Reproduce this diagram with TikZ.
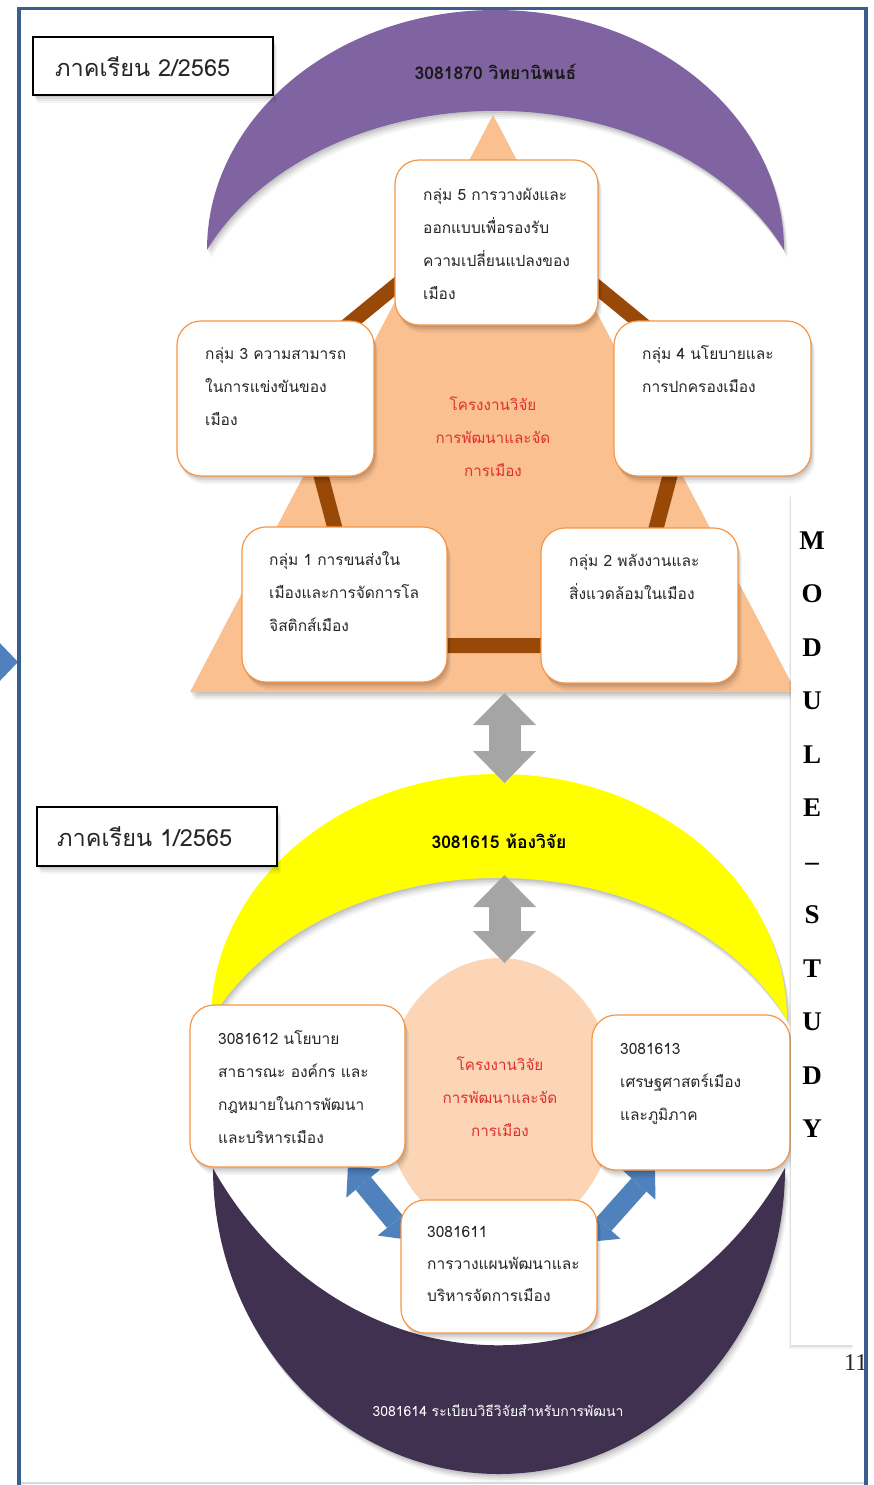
\documentclass[tikz,border=0pt]{standalone}
\usepackage{fontspec}
\setmainfont{Loma}[Script=Thai]
\newfontfamily\modfont{Liberation Serif}
\usetikzlibrary{shadows,arrows.meta,calc}
\definecolor{purpleM}{HTML}{8064A2}
\definecolor{darkM}{HTML}{403151}
\definecolor{yellowM}{HTML}{FFFF00}
\definecolor{peachT}{HTML}{FAC090}
\definecolor{peachC}{HTML}{FBD5B5}
\definecolor{brownB}{HTML}{984807}
\definecolor{orangeE}{HTML}{F79646}
\definecolor{grayA}{HTML}{A5A5A5}
\definecolor{blueA}{HTML}{4F81BD}
\definecolor{redT}{HTML}{E0302E}
\definecolor{frameB}{HTML}{3A5F8E}
\definecolor{txt}{HTML}{262626}
\tikzset{
  shad/.style={drop shadow={shadow xshift=1pt, shadow yshift=-2pt, opacity=0.08, fill=black},
               drop shadow={shadow xshift=2pt, shadow yshift=-4pt, opacity=0.07, fill=black},
               drop shadow={shadow xshift=3pt, shadow yshift=-6pt, opacity=0.05, fill=black},
               drop shadow={shadow xshift=4pt, shadow yshift=-8pt, opacity=0.04, fill=black}},
  cbox/.style={draw=orangeE, line width=1.2pt, fill=white, rounded corners=24pt, inner sep=0pt, shad},
  lbl/.style={draw=black, line width=1.2pt, fill=white, inner sep=0pt, shad},
  panel/.style={fill=white, inner sep=0pt,
               drop shadow={shadow xshift=-1pt, shadow yshift=-2pt, opacity=0.07, fill=black},
               drop shadow={shadow xshift=-2pt, shadow yshift=-4pt, opacity=0.05, fill=black}},
  boxtext/.style={anchor=north west, inner sep=0pt, align=left, text=txt, font=\fontsize{15.5pt}{33pt}\selectfont},
  ctext/.style={anchor=north, inner sep=0pt, align=center, text=redT, font=\fontsize{15.2pt}{33pt}\selectfont},
  moontext/.style={anchor=base, inner sep=0pt, font=\fontsize{17.5pt}{20pt}\selectfont\bfseries},
  lbltext/.style={anchor=base west, inner sep=0pt, text=txt, font=\fontsize{23.5pt}{26pt}\selectfont},
  modletter/.style={anchor=base, inner sep=0pt, font=\modfont\bfseries\fontsize{27pt}{30pt}\selectfont},
  garrow/.style={draw=grayA, line width=32pt, {Triangle[length=32pt,width=63pt,line width=0pt]}-{Triangle[length=32pt,width=63pt,line width=0pt]}},
  barrow/.style={draw=blueA, line width=20pt, {Triangle[length=24pt,width=44pt,line width=0pt]}-{Triangle[length=24pt,width=44pt,line width=0pt]}},
  brownbar/.style={draw=brownB, line width=15pt, line join=miter}
}
\begin{document}
\begin{tikzpicture}[x=1pt,y=1pt]
\useasboundingbox (0,0) rectangle (873,-1485);
\begin{scope}
\clip (0,0) rectangle (873,-1485);
\fill[white] (0,0) rectangle (873,-1485);
% left blue marker
\fill[blueA] (-5,-638) -- (18,-662) -- (-5,-686) -- cycle;

% ---------- upper part ----------
\fill[purpleM, shad] (207,-250) arc[start angle=180, end angle=0, x radius=288.5, y radius=240]
  arc[start angle=24.7, end angle=155.3, x radius=317.6, y radius=239] -- cycle;
\node[moontext, text=black!90] (tPur) at (495.5,-80) {3081870 วิทยานิพนธ์};

\fill[peachT, shad] (493,-115) -- (190,-692) -- (796,-692) -- cycle;

\coordinate (pT) at (495.5,-204);
\coordinate (pUL) at (293,-370);
\coordinate (pUR) at (698,-370);
\coordinate (pBL) at (366,-645.5);
\coordinate (pBR) at (625,-645.5);
\draw[brownbar] (pT) -- (pUL) -- (pBL) -- (pBR) -- (pUR) -- cycle;

\node[cbox, minimum width=203pt, minimum height=165pt] (b5) at (496.5,-242.5) {};
\node[cbox, minimum width=197pt, minimum height=155pt] (b3) at (275.5,-398.5) {};
\node[cbox, minimum width=197pt, minimum height=155pt] (b4) at (712.5,-398.5) {};
\node[cbox, minimum width=205pt, minimum height=155pt] (b1) at (344.5,-604.5) {};
\node[cbox, minimum width=197pt, minimum height=155pt] (b2) at (639.5,-605.5) {};

\node[boxtext] (t5) at (423,-184) {\rule{0pt}{16pt}กลุ่ม 5 การวางผังและ\\ออกแบบเพื่อรองรับ\\ความเปลี่ยนแปลงของ\\เมือง};
\node[boxtext] (t3) at (205,-343) {\rule{0pt}{16pt}กลุ่ม 3 ความสามารถ\\ในการแข่งขันของ\\เมือง};
\node[boxtext] (t4) at (642,-343) {\rule{0pt}{16pt}กลุ่ม 4 นโยบายและ\\การปกครองเมือง};
\node[boxtext] (t1) at (269,-549) {\rule{0pt}{16pt}กลุ่ม 1 การขนส่งใน\\เมืองและการจัดการโล\\จิสติกส์เมือง};
\node[boxtext] (t2) at (569,-550) {\rule{0pt}{16pt}กลุ่ม 2 พลังงานและ\\สิ่งแวดล้อมในเมือง};
\node[ctext] (cT) at (493,-394) {\rule{0pt}{16pt}โครงงานวิจัย\\การพัฒนาและจัด\\การเมือง};

\node[lbl, minimum width=240pt, minimum height=58pt] (L2) at (153,-66) {};
\node[lbltext] (L2t) at (55,-77) {ภาคเรียน 2/2565};

% ---------- lower part ----------
\fill[yellowM, shad] (211,-1020) arc[start angle=180, end angle=0, x radius=288, y radius=246]
  arc[start angle=24.4, end angle=155.6, x radius=316.3, y radius=242] -- cycle;
\node[moontext, text=black] (tYel) at (499,-848) {3081615 ห้องวิจัย};

\fill[darkM, shad] (213,-1168) arc[start angle=180, end angle=360, x radius=286, y radius=306]
  arc[start angle=-32, end angle=-148, x radius=337.4, y radius=377] -- cycle;
\node[anchor=base, inner sep=0pt, text=white, font=\fontsize{14pt}{16pt}\selectfont] (tDark) at (498,-1416) {3081614 ระเบียบวิธีวิจัยสำหรับการพัฒนา};

\fill[peachC] (500,-1098) ellipse [x radius=116, y radius=140];

\coordinate (ga1s) at (504.5,-693);
\coordinate (ga1e) at (504.5,-783);
\coordinate (ga2s) at (504.5,-875);
\coordinate (ga2e) at (504.5,-963);
\draw[garrow] (ga1s) -- (ga1e);
\draw[garrow] (ga2s) -- (ga2e);

\coordinate (ba1s) at (348,-1165);
\coordinate (ba1e) at (410,-1240);
\coordinate (ba2s) at (655,-1167);
\coordinate (ba2e) at (588,-1242);
\draw[barrow] (ba1s) -- (ba1e);
\draw[barrow] (ba2s) -- (ba2e);

\node[cbox, minimum width=215pt, minimum height=162pt] (c12) at (297.5,-1086) {};
\node[cbox, minimum width=198pt, minimum height=155pt] (c13) at (691,-1092.5) {};
\node[cbox, minimum width=196pt, minimum height=133pt] (c11) at (499,-1266.5) {};

\node[boxtext] (t12) at (218,-1028) {\rule{0pt}{16pt}3081612 นโยบาย\\สาธารณะ องค์กร และ\\กฎหมายในการพัฒนา\\และบริหารเมือง};
\node[boxtext] (t13) at (620,-1038) {\rule{0pt}{16pt}3081613\\เศรษฐศาสตร์เมือง\\และภูมิภาค};
\node[boxtext, font=\fontsize{15.5pt}{32pt}\selectfont] (t11) at (427,-1221) {\rule{0pt}{16pt}3081611\\การวางแผนพัฒนาและ\\บริหารจัดการเมือง};
\node[ctext] (cB) at (500,-1054) {\rule{0pt}{16pt}โครงงานวิจัย\\การพัฒนาและจัด\\การเมือง};

\node[lbl, minimum width=240pt, minimum height=59pt] (L1) at (157,-836.5) {};
\node[lbltext] (L1t) at (57,-846) {ภาคเรียน 1/2565};

% ---------- side panel ----------
\node[panel, minimum width=63pt, minimum height=852pt] (mod) at (822.5,-919) {};
\foreach \c [count=\i from 0] in {M,O,D,U,L,E,–,S,T,U,D,Y}
  \node[modletter] (m\i) at (812,{-549-53.5*\i}) {\c};

\node[anchor=base west, inner sep=0pt, text=txt, font=\modfont\fontsize{24pt}{26pt}\selectfont] (pg) at (844,-1370) {11};
\fill[white] (868,0) rectangle (873,-1485);

% ---------- frame ----------
\draw[black!15, line width=2pt] (21,-1483) -- (864,-1483);
\draw[frameB, line width=3.5pt] (19,-1490) -- (19,-8.5) -- (866,-8.5) -- (866,-1490);
\end{scope}
\end{tikzpicture}
\end{document}
